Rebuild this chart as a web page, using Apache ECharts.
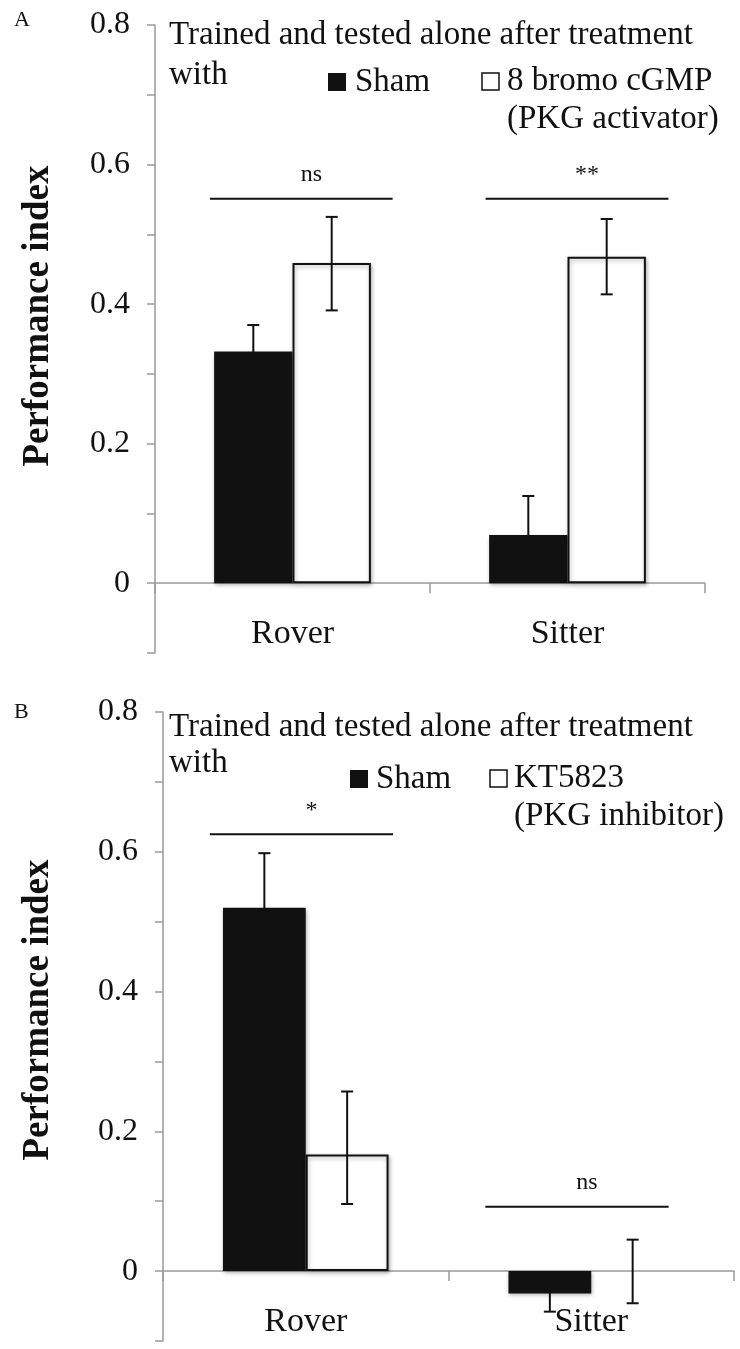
<!DOCTYPE html>
<html>
<head>
<meta charset="utf-8">
<style>
  html, body { margin: 0; padding: 0; background: #fff; }
  #chart { width: 740px; height: 1349px; }
</style>
<script src="https://cdn.jsdelivr.net/npm/echarts@6/dist/echarts.min.js"></script>
</head>
<body>
<div id="chart"></div>
<script>
// ---------------- data ----------------
const categories = ['Rover', 'Sitter'];

// Panel A: Sham vs 8 bromo cGMP (PKG activator)
const shamA = [0.332, 0.069];
const shamA_errLow = [0.294, 0.013];
const shamA_errHigh = [0.370, 0.125];
const drugA = [0.459, 0.468];
const drugA_errLow = [0.391, 0.414];
const drugA_errHigh = [0.525, 0.522];
const sigLevelA = [0.551, 0.551];
const sigLabelA = ['ns', '**'];

// Panel B: Sham vs KT5823 (PKG inhibitor)
const shamB = [0.520, -0.032];
const shamB_errLow = [0.442, -0.058];
const shamB_errHigh = [0.598, -0.006];
const drugB = [0.167, 0.0];
const drugB_errLow = [0.096, -0.046];
const drugB_errHigh = [0.257, 0.045];
const sigLevelB = [0.625, 0.092];
const sigLabelB = ['*', 'ns'];

const yMin = -0.1, yMax = 0.8, yStep = 0.1;
const yLabelValues = [0, 0.2, 0.4, 0.6, 0.8];
const yLabelTexts = ['0', '0.2', '0.4', '0.6', '0.8'];

const panelLetters = ['A', 'B'];
const titleLine1 = 'Trained and tested alone after treatment';
const titleLine2 = 'with';
const legendSham = 'Sham';
const legendDrugA = ['8 bromo cGMP', '(PKG activator)'];
const legendDrugB = ['KT5823', '(PKG inhibitor)'];
const yAxisTitle = 'Performance index';

// ---------------- layout / style ----------------
const SERIF = "'Liberation Serif', 'Times New Roman', serif";
const AXIS_GRAY = '#9a9a9a';
const INK = '#111111';

const grids = [
  { left: 155, right: 35, top: 25, height: 628, barFrac: 0.285, sigSpan: [[-0.30, 0.364], [-0.298, 0.367]] },
  { left: 163, right: 6, top: 712, height: 629, barFrac: 0.29, sigSpan: [[-0.336, 0.306], [-0.371, 0.271]] }
];

function yLabelFmt(v) {
  const i = yLabelValues.findIndex(t => Math.abs(t - v) < 1e-6);
  return i >= 0 ? yLabelTexts[i] : '';
}

function errorRenderer(barFrac) {
  return function (params, api) {
    const cat = api.value(0), lo = api.value(1), hi = api.value(2), s = api.value(3);
    const band = api.size([1, 0])[0];
    const cx = api.coord([cat, 0])[0] + (s === 0 ? -1 : 1) * band * barFrac / 2;
    const yLo = api.coord([cat, lo])[1];
    const yHi = api.coord([cat, hi])[1];
    const hw = 6;
    const st = { stroke: INK, lineWidth: 2 };
    return {
      type: 'group',
      children: [
        { type: 'line', shape: { x1: cx, y1: yLo, x2: cx, y2: yHi }, style: st },
        { type: 'line', shape: { x1: cx - hw, y1: yHi, x2: cx + hw, y2: yHi }, style: st },
        { type: 'line', shape: { x1: cx - hw, y1: yLo, x2: cx + hw, y2: yLo }, style: st }
      ]
    };
  };
}

function sigRenderer(spans, labels) {
  return function (params, api) {
    const cat = api.value(0), lvl = api.value(1);
    const band = api.size([1, 0])[0];
    const c = api.coord([cat, lvl]);
    const sp = spans[params.dataIndex];
    const x1 = c[0] + sp[0] * band, x2 = c[0] + sp[1] * band;
    const mid = (x1 + x2) / 2 + 10;
    return {
      type: 'group',
      children: [
        { type: 'line', shape: { x1: x1, y1: c[1], x2: x2, y2: c[1] }, style: { stroke: INK, lineWidth: 2 } },
        { type: 'text', style: { text: labels[params.dataIndex], x: mid, y: c[1] - 24,
            font: '24px ' + SERIF, fill: INK, align: 'center', verticalAlign: 'middle' } }
      ]
    };
  };
}

function errData(lowS, highS, lowD, highD) {
  const out = [];
  categories.forEach((c, i) => {
    out.push([i, lowS[i], highS[i], 0]);
    out.push([i, lowD[i], highD[i], 1]);
  });
  return out;
}

function barData(vals) {
  return vals.map(v => v === 0 ? { value: v, itemStyle: { borderWidth: 0 } } : v);
}

const barShadow = { shadowBlur: 4, shadowColor: 'rgba(0,0,0,0.3)', shadowOffsetX: 1, shadowOffsetY: 2 };

const xAxes = grids.map((g, i) => ({
  type: 'category', gridIndex: i, data: categories,
  axisLine: { onZero: true, lineStyle: { color: AXIS_GRAY, width: 1.5 } },
  axisTick: { show: true, alignWithLabel: false, length: 10, inside: false, lineStyle: { color: AXIS_GRAY, width: 1.5 } },
  axisLabel: { color: INK, fontFamily: SERIF, fontSize: 34, margin: -36 },
  splitLine: { show: false }
}));

const yAxes = grids.map((g, i) => ({
  type: 'value', gridIndex: i, min: yMin, max: yMax, interval: yStep,
  axisLine: { show: true, lineStyle: { color: AXIS_GRAY, width: 1.5 } },
  axisTick: { show: true, length: 8, lineStyle: { color: AXIS_GRAY, width: 1.5 } },
  axisLabel: { color: INK, fontFamily: SERIF, fontSize: 32, margin: 25, formatter: yLabelFmt },
  splitLine: { show: false }
}));

const panels = [
  { sham: shamA, drug: drugA, err: errData(shamA_errLow, shamA_errHigh, drugA_errLow, drugA_errHigh), sigLvl: sigLevelA, sigLbl: sigLabelA },
  { sham: shamB, drug: drugB, err: errData(shamB_errLow, shamB_errHigh, drugB_errLow, drugB_errHigh), sigLvl: sigLevelB, sigLbl: sigLabelB }
];

const series = [];
panels.forEach((p, i) => {
  const g = grids[i];
  series.push({
    type: 'bar', name: legendSham, xAxisIndex: i, yAxisIndex: i, data: barData(p.sham),
    barWidth: (g.barFrac * 100) + '%', barGap: '0%',
    itemStyle: Object.assign({ color: INK }, barShadow), z: 2
  });
  series.push({
    type: 'bar', name: i === 0 ? legendDrugA.join(' ') : legendDrugB.join(' '),
    xAxisIndex: i, yAxisIndex: i, data: barData(p.drug),
    barWidth: (g.barFrac * 100) + '%', barGap: '0%',
    itemStyle: Object.assign({ color: '#ffffff', borderColor: INK, borderWidth: 2 }, barShadow), z: 2
  });
  series.push({
    type: 'custom', xAxisIndex: i, yAxisIndex: i, data: p.err,
    renderItem: errorRenderer(g.barFrac), encode: { x: 0, y: [1, 2] }, z: 5, silent: true, clip: false
  });
  series.push({
    type: 'custom', xAxisIndex: i, yAxisIndex: i,
    data: p.sigLvl.map((v, k) => [k, v]),
    renderItem: sigRenderer(g.sigSpan, p.sigLbl), encode: { x: 0, y: 1 }, z: 5, silent: true, clip: false
  });
});

// ---------- text annotations (legend, titles) ----------
function graphicsFor(i) {
  const drug = i === 0 ? legendDrugA : legendDrugB;
  const items = [];
  const F = '33px ' + SERIF;
  items.push({ type: 'text', x: 14, y: (i === 0 ? 20 : 712), style: { text: panelLetters[i], font: '22px ' + SERIF, fill: INK, verticalAlign: 'middle' } });
  items.push({ type: 'text', x: 169, y: 35 + (i === 0 ? 0 : 692), style: { text: titleLine1, font: F, fill: INK, verticalAlign: 'middle' } });
  items.push({ type: 'text', x: 169, y: 75 + (i === 0 ? 0 : 688), style: { text: titleLine2, font: F, fill: INK, verticalAlign: 'middle' } });
  const ly = i === 0 ? 82 : 779;
  const sq1x = i === 0 ? 328 : 350, t1x = i === 0 ? 355 : 376;
  const sq2x = i === 0 ? 482 : 490, t2x = i === 0 ? 507 : 514;
  items.push({ type: 'rect', shape: { x: sq1x, y: ly - 9, width: 18, height: 18 }, style: { fill: INK } });
  items.push({ type: 'text', x: t1x, y: ly, style: { text: legendSham, font: F, fill: INK, verticalAlign: 'middle' } });
  items.push({ type: 'rect', shape: { x: sq2x, y: ly - 9, width: 17, height: 17 }, style: { fill: '#fff', stroke: INK, lineWidth: 1.5 } });
  items.push({ type: 'text', x: t2x, y: ly - 1, style: { text: drug[0], font: F, fill: INK, verticalAlign: 'middle' } });
  items.push({ type: 'text', x: t2x, y: ly + 37, style: { text: drug[1], font: F, fill: INK, verticalAlign: 'middle' } });
  const yc = i === 0 ? 316 : 1010;
  items.push({ type: 'text', x: 38, y: yc, rotation: Math.PI / 2,
    style: { text: yAxisTitle, font: 'bold 37px ' + SERIF, fill: INK, align: 'center', verticalAlign: 'middle' } });
  return items;
}

const chart = echarts.init(document.getElementById('chart'), null, { renderer: 'canvas' });
chart.setOption({
  animation: false,
  backgroundColor: '#ffffff',
  grid: grids.map(g => ({ left: g.left, right: g.right, top: g.top, height: g.height, containLabel: false, outerBoundsMode: 'none' })),
  xAxis: xAxes,
  yAxis: yAxes,
  series: series,
  graphic: { elements: graphicsFor(0).concat(graphicsFor(1)) }
});
</script>
</body>
</html>
